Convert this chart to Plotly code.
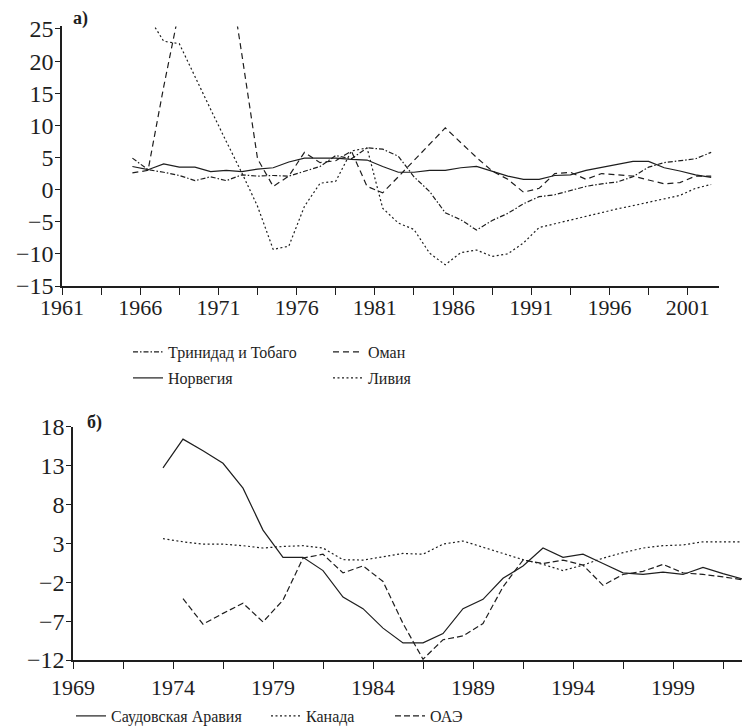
import plotly.graph_objects as go

# ---------- а) ----------
years_a = list(range(1965, 2003))
trinidad = [4.9, 3.1, 2.7, 2.2, 1.4, 2.0, 1.4, 2.3, 2.1, 2.2,
            2.1, 2.9, 3.6, 5.3, 4.8, 6.5, 6.3, 5.2, 2.0, -0.3,
            -3.6, -4.7, -6.3, -4.8, -3.7, -2.2, -1.1, -0.8, -0.2, 0.5,
            0.9, 1.2, 2.0, 3.5, 4.2, 4.5, 4.8, 5.8]
oman = [2.6, 3.0, 16, 29, 40, 45, 36.7, 21, 4.8, 0.5,
        2.1, 5.8, 4.2, 4.5, 6.0, 0.5, -0.5, 2.0, 4.5, 7.0,
        9.6, 7.3, 5.0, 2.9, 1.6, -0.4, 0.2, 2.5, 2.7, 1.6,
        2.5, 2.3, 2.1, 1.5, 0.9, 1.1, 2.1, 2.1]
norway = [3.6, 3.1, 4.0, 3.5, 3.5, 2.8, 3.0, 2.8, 3.2, 3.4,
          4.3, 4.9, 4.9, 4.9, 4.7, 4.6, 3.6, 2.7, 2.7, 3.0,
          3.0, 3.4, 3.6, 2.9, 2.1, 1.6, 1.6, 2.2, 2.3, 3.0,
          3.5, 4.0, 4.4, 4.4, 3.4, 2.9, 2.3, 1.9]
libya = [None, 27, 23.1, 22.7, 17.5, 12.5, 7.5, 2.6, -2.6, -9.3,
         -8.8, -2.6, 1.0, 1.3, 6.0, 6.5, -2.9, -5.2, -6.2, -9.9,
         -11.7, -9.8, -9.4, -10.4, -10.0, -8.3, -5.9, -5.3, -4.7, -4.1,
         -3.5, -3.0, -2.5, -2.0, -1.5, -0.9, 0.2, 0.8]

# ---------- б) ----------
years_b = list(range(1973, 2003))
saudi = [12.7, 16.4, 14.9, 13.3, 10.1, 4.7, 1.2, 1.2, -0.5, -3.9,
         -5.4, -7.9, -9.8, -9.8, -8.6, -5.4, -4.2, -1.5, 0.1, 2.4,
         1.2, 1.6, 0.4, -0.8, -1.0, -0.7, -1.0, -0.1, -0.9, -1.6]
canada = [3.6, 3.2, 2.9, 2.9, 2.7, 2.4, 2.6, 2.7, 2.4, 0.9,
          0.85, 1.3, 1.7, 1.6, 2.9, 3.3, 2.5, 1.6, 0.9, 0.3,
          -0.5, 0.2, 1.1, 1.8, 2.4, 2.7, 2.8, 3.2, 3.2, 3.2]
uae = [None, -4.1, -7.4, -6.0, -4.7, -7.1, -4.3, 1.1, 1.6, -0.8,
       0.1, -1.9, -7.3, -11.9, -9.4, -8.9, -7.3, -2.6, 0.85, 0.4,
       0.85, 0.2, -2.4, -1.0, -0.6, 0.3, -0.8, -1.0, -1.3, -1.7]

# the page body keeps its default 8px margin; the figure starts after it
# and runs a little past the bottom of the window
PAD = 8
W, H = 750 - PAD, 725
SERIF = "Liberation Serif"
INK = "#1e1e1e"


def fx(sx):  # screen px -> paper x
    return (sx - PAD) / W


def fy(sy):  # screen px -> paper y
    return 1 - (sy - PAD) / H


# each year's value sits in the middle of its category, between tick labels
xa = [y + 0.5 for y in years_a]
xb = [y + 0.5 for y in years_b]

fig = go.Figure()


def add(x, y, name, dash, xax, yax, legend):
    fig.add_trace(go.Scatter(x=x, y=y, name=name, mode="lines",
                             line=dict(color=INK, width=1.2, dash=dash),
                             xaxis=xax, yaxis=yax, legend=legend))


add(xa, trinidad, "Тринидад и Тобаго", "5px,2px,1.5px,2px", "x", "y", "legend")
add(xa, oman, "Оман", "6px,4px", "x", "y", "legend")
add(xa, norway, "Норвегия", "solid", "x", "y", "legend2")
add(xa, libya, "Ливия", "2px,2.5px", "x", "y", "legend2")

add(xb, saudi, "Саудовская Аравия", "solid", "x2", "y2", "legend3")
add(xb, canada, "Канада", "2px,2.5px", "x2", "y2", "legend4")
add(xb, uae, "ОАЭ", "6px,3px", "x2", "y2", "legend5")


def x_axis(left, right, start, end, anchor, standoff=0):
    return dict(domain=[fx(left), fx(right)], range=[start, end], anchor=anchor,
                automargin=False, ticklabelstandoff=standoff,
                tick0=start, dtick=5, ticks="outside", ticklen=7, tickwidth=1.2,
                tickcolor=INK,
                minor=dict(tick0=start, dtick=2.5, ticks="outside", ticklen=7,
                           tickwidth=1.2, tickcolor=INK, showgrid=False),
                showline=True, linecolor=INK, linewidth=1.5,
                showgrid=False, zeroline=False,
                tickfont=dict(family=SERIF, size=22, color=INK))


def y_axis(top, bottom, lo, hi, anchor):
    return dict(domain=[fy(bottom), fy(top)], range=[lo, hi], anchor=anchor,
                automargin=False, ticklabelstandoff=-3,
                tick0=lo, dtick=5, ticks="outside", ticklen=5, tickwidth=1.2,
                tickcolor=INK, showline=True, linecolor=INK, linewidth=1.5,
                showgrid=False, zeroline=False,
                tickfont=dict(family=SERIF, size=24, color=INK))


def legend_at(sx, sy, entry=None, anchor="middle"):
    d = dict(x=fx(sx), y=fy(sy), xanchor="left", yanchor=anchor,
             orientation="h", bgcolor="rgba(0,0,0,0)", borderwidth=0,
             font=dict(family=SERIF, size=16, color=INK))
    if entry:
        d["entrywidth"] = entry
    return d


fig.update_layout(
    template="none",
    width=W, height=H,
    margin=dict(l=0, r=0, t=0, b=0),
    paper_bgcolor="white", plot_bgcolor="white",
    font=dict(family=SERIF, color=INK),
    showlegend=True,
    xaxis=x_axis(62, 719, 1961, 2003, "y", standoff=-6),
    yaxis=y_axis(26.4, 286, -15, 25.4, "x"),
    xaxis2=x_axis(73, 748, 1969, 2002.75, "y2"),
    yaxis2=y_axis(426.7, 660, -12, 18, "x2"),
    legend=legend_at(128, 352, 155),
    legend2=legend_at(128, 378, 155),
    legend3=legend_at(71, PAD + H, anchor="bottom"),
    legend4=legend_at(266, PAD + H, anchor="bottom"),
    legend5=legend_at(390, PAD + H, anchor="bottom"),
    annotations=[
        dict(text="<b>а)</b>", x=fx(71), y=fy(19), xref="paper", yref="paper",
             xanchor="left", yanchor="middle", showarrow=False,
             font=dict(family=SERIF, size=18, color=INK)),
        dict(text="<b>б)</b>", x=fx(85), y=fy(422), xref="paper", yref="paper",
             xanchor="left", yanchor="middle", showarrow=False,
             font=dict(family=SERIF, size=18, color=INK)),
    ],
)

fig.write_html("out.html")
